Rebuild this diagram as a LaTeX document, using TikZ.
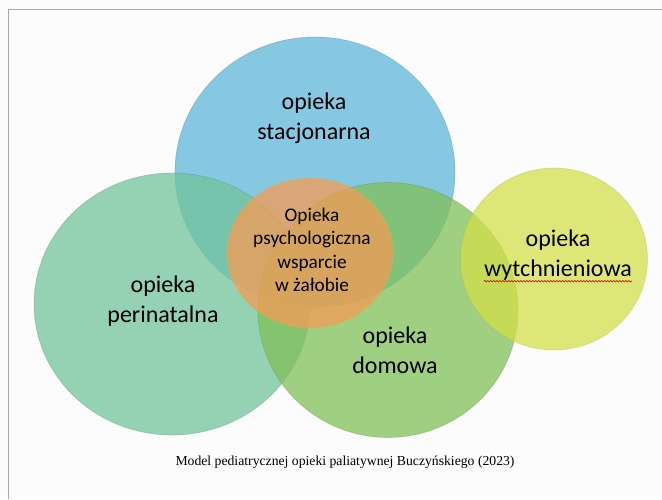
\documentclass[tikz,border=0pt]{standalone}
\usepackage{fontspec}
\setmainfont{Carlito}
\newfontfamily\capfont{Liberation Serif}
\usetikzlibrary{shapes.geometric,decorations.pathmorphing}
\definecolor{Sky}{HTML}{5FB6D8}
\definecolor{Mint}{HTML}{73C39B}
\definecolor{Leaf}{HTML}{80C058}
\definecolor{Lime}{HTML}{D3E04B}
\definecolor{Amber}{HTML}{F59B55}
\definecolor{Paper}{HTML}{FCFCFC}
\definecolor{Rule}{HTML}{AAAAAA}

\begin{document}
\begin{tikzpicture}[x=1pt,y=-1pt,
blob/.style={ellipse,inner sep=0pt,fill opacity=0.75,draw opacity=0.3,line width=0.7pt},
big/.style={inner sep=0pt,align=center,font=\fontsize{24}{29.5}\selectfont},
small/.style={inner sep=0pt,align=center,font=\fontsize{19.3}{23.5}\selectfont},
squiggle/.style={draw=red!85!black,line width=0.6pt,decorate,decoration={snake,segment length=3pt,amplitude=0.8pt}}]
\useasboundingbox (0,0) rectangle (662,499);
\fill[Paper] (0,0) rectangle (662,499);
\draw[Rule,line width=0.8pt] (8,499) -- (8,9) -- (662,9);
\node[blob,fill=Sky,draw=Sky!70!black,minimum width=280pt,minimum height=270pt] (stac) at (315,172) {};
\node[blob,fill=Mint,draw=Mint!70!black,minimum width=276pt,minimum height=262pt] (peri) at (172,304) {};
\node[blob,fill=Leaf,draw=Leaf!70!black,minimum width=260pt,minimum height=255pt] (domo) at (388,310) {};
\node[blob,fill=Lime,draw=Lime!80!black,minimum width=187pt,minimum height=182pt] (wyt) at (554,259) {};
\node[blob,fill=Amber,draw=Lime!90!black,minimum width=166pt,minimum height=150pt] (psych) at (310,253) {};
\node[big] (stacTxt) at (314,118) {opieka\\stacjonarna};
\node[big] (periTxt) at (163,301) {opieka\\perinatalna};
\node[big] (domoTxt) at (395,350) {opieka\\domowa};
\node[big] (wytTxt) at (558,255) {opieka\\wytchnieniowa};
\node[small] (psychTxt) at (312,250) {Opieka\\psychologiczna\\wsparcie\\w żałobie};
\draw[squiggle] ([yshift=-1pt]wytTxt.south west) -- ([yshift=-1pt]wytTxt.south east);
\node[font=\capfont\fontsize{13.7}{16}\selectfont] (caption) at (345,462) {Model pediatrycznej opieki paliatywnej Buczyńskiego (2023)};
\end{tikzpicture}
\end{document}
